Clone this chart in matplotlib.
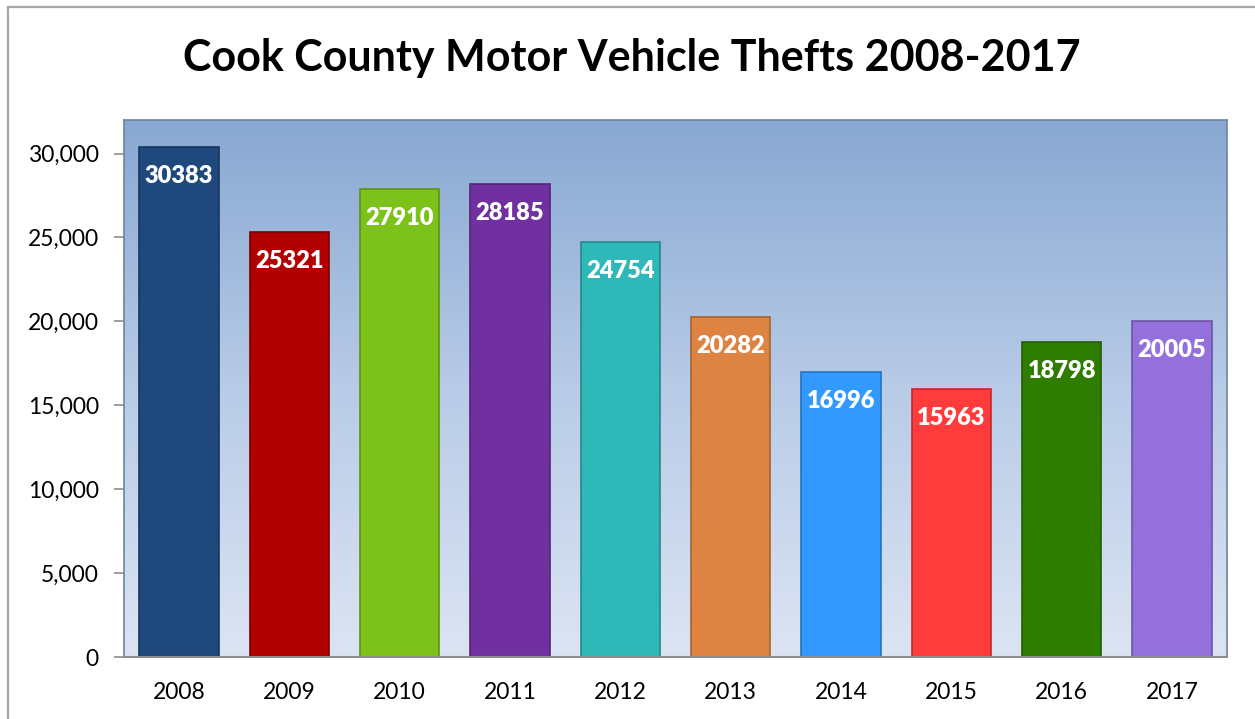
import matplotlib.pyplot as plt
import numpy as np
from matplotlib.colors import LinearSegmentedColormap
from matplotlib.patches import Rectangle
from matplotlib.ticker import FuncFormatter

years = ['2008', '2009', '2010', '2011', '2012', '2013', '2014', '2015', '2016', '2017']
thefts = [30383, 25321, 27910, 28185, 24754, 20282, 16996, 15963, 18798, 20005]
bar_colors = ['#1F497D', '#B00000', '#7DC21A', '#7030A0', '#2EB8B8',
              '#DD8442', '#3399FF', '#FF3B3B', '#2E7D00', '#9370DB']
edge_colors = ['#17365D', '#7A0000', '#5E9214', '#532478', '#23898A',
               '#A6632F', '#2673BF', '#BF2C2C', '#225E00', '#6E54A4']

plt.rcParams['font.family'] = ['Lato', 'DejaVu Sans']

fig = plt.figure(figsize=(12.55, 7.19), dpi=100)
fig.patch.set_facecolor('white')

# outer chart frame (only left and top visible in the crop)
frame = Rectangle((8 / 1255, -0.2), 1.3, 1.2 - 7 / 719, transform=fig.transFigure,
                  fill=False, edgecolor='#A6A6A6', linewidth=1.6, zorder=0)
fig.patches.append(frame)

ax = fig.add_axes([124 / 1255, 1 - 657 / 719, 1103 / 1255, 537 / 719])

# gradient background of the plot area
cmap = LinearSegmentedColormap.from_list('bg', ['#DCE4F3', '#B8CBE7', '#88A8D2'])
grad = np.linspace(0, 1, 256).reshape(-1, 1)
ax.imshow(grad, cmap=cmap, aspect='auto', extent=[0, 1, 0, 1], origin='lower',
          transform=ax.transAxes, zorder=0)

x = np.arange(len(years))
bars = ax.bar(x, thefts, width=0.72, color=bar_colors, edgecolor=edge_colors,
              linewidth=1.2, zorder=2)

for xi, v in zip(x, thefts):
    ax.annotate(str(v), (xi, v), xytext=(0, -21), textcoords='offset points',
                ha='center', va='center', color='white', fontsize=17,
                fontweight='heavy', zorder=3)

ax.set_xlim(-0.5, len(years) - 0.5)
ax.set_ylim(0, 32000)
ax.set_yticks(range(0, 30001, 5000))
ax.yaxis.set_major_formatter(FuncFormatter(lambda v, p: f'{int(v):,}'))
ax.set_xticks(x)
ax.set_xticklabels(years)
ax.tick_params(axis='y', length=7, width=1.2, color='#8C8C8C', labelsize=16.5, pad=11)
ax.tick_params(axis='x', length=0, labelsize=16.5, pad=18)

for side in ['top', 'right', 'left']:
    ax.spines[side].set_color('#6E849E')
    ax.spines[side].set_linewidth(1.2)
ax.spines['bottom'].set_color('#8C8C8C')
ax.spines['bottom'].set_linewidth(1.5)

fig.text(632 / 1255, 1 - 58 / 719, 'Cook County Motor Vehicle Thefts 2008-2017',
         ha='center', va='center', fontsize=31, fontweight='bold')

plt.savefig('out.png', dpi=100)
